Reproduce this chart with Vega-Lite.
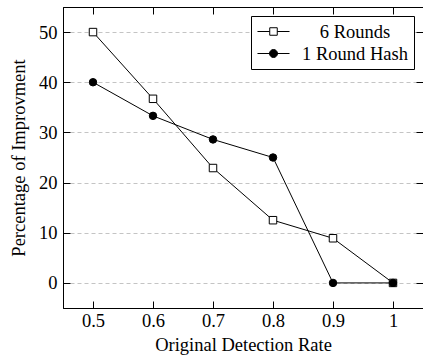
{
  "$schema": "https://vega.github.io/schema/vega-lite/v6.json",
  "width": 360,
  "height": 301,
  "autosize": {"type": "none"},
  "padding": {"left": 63, "top": 7, "right": 0, "bottom": 50},
  "background": "white",
  "config": {
    "font": "Liberation Serif",
    "view": {"stroke": "black", "strokeWidth": 1},
    "axis": {
      "domainColor": "black",
      "domainWidth": 1,
      "tickColor": "black",
      "tickWidth": 1,
      "tickSize": -7,
      "labelFont": "Liberation Serif",
      "labelFontSize": 18.5,
      "labelColor": "black",
      "titleFont": "Liberation Serif",
      "titleFontSize": 18.5,
      "titleFontWeight": "normal",
      "titleColor": "black",
      "gridColor": "#c4c4c4",
      "gridDash": [4, 3],
      "gridWidth": 1
    },
    "legend": {
      "labelFont": "Liberation Serif",
      "labelFontSize": 18.5,
      "labelColor": "black",
      "title": null,
      "orient": "top-right",
      "offset": 9,
      "padding": 6,
      "strokeColor": "black",
      "fillColor": "white",
      "labelAlign": "center",
      "labelOffset": 72,
      "rowPadding": 3,
      "symbolSize": 324,
      "symbolOffset": 7,
      "symbolStrokeColor": "black",
      "symbolStrokeWidth": 1
    }
  },
  "data": {
    "values": [
      {"rate": 0.5, "value": 50, "series": "6 Rounds"},
      {"rate": 0.6, "value": 36.7, "series": "6 Rounds"},
      {"rate": 0.7, "value": 22.9, "series": "6 Rounds"},
      {"rate": 0.8, "value": 12.5, "series": "6 Rounds"},
      {"rate": 0.9, "value": 8.9, "series": "6 Rounds"},
      {"rate": 1.0, "value": 0, "series": "6 Rounds"},
      {"rate": 0.5, "value": 40, "series": "1 Round Hash"},
      {"rate": 0.6, "value": 33.3, "series": "1 Round Hash"},
      {"rate": 0.7, "value": 28.6, "series": "1 Round Hash"},
      {"rate": 0.8, "value": 25, "series": "1 Round Hash"},
      {"rate": 0.9, "value": 0, "series": "1 Round Hash"},
      {"rate": 1.0, "value": 0, "series": "1 Round Hash"}
    ]
  },
  "layer": [
    {
      "mark": {"type": "line", "color": "black", "strokeWidth": 1},
      "encoding": {
        "x": {
          "field": "rate", "type": "quantitative",
          "scale": {"domain": [0.45, 1.05], "nice": false, "zero": false},
          "axis": {
            "orient": "bottom",
            "values": [0.5, 0.6, 0.7, 0.8, 0.9, 1],
            "format": "~g",
            "grid": false,
            "labelPadding": 10,
            "title": "Original Detection Rate",
            "titlePadding": 6
          }
        },
        "y": {
          "field": "value", "type": "quantitative",
          "scale": {"domain": [-5, 55], "nice": false, "zero": false},
          "axis": {
            "orient": "left",
            "values": [0, 10, 20, 30, 40, 50],
            "grid": true,
            "labelPadding": 13,
            "title": "Percentage of Improvment",
            "titlePadding": 10
          }
        },
        "detail": {"field": "series"}
      }
    },
    {
      "mark": {"type": "point", "stroke": "black", "strokeWidth": 1, "opacity": 1, "size": 56},
      "encoding": {
        "x": {
          "field": "rate", "type": "quantitative",
          "axis": {"orient": "top", "labels": false, "title": null, "grid": false, "values": [0.5, 0.6, 0.7, 0.8, 0.9, 1]}
        },
        "y": {
          "field": "value", "type": "quantitative",
          "axis": {"orient": "right", "labels": false, "title": null, "grid": false, "values": [0, 10, 20, 30, 40, 50]}
        },
        "shape": {
          "field": "series", "type": "nominal",
          "scale": {"domain": ["6 Rounds", "1 Round Hash"], "range": ["square", "circle"]},
          "legend": null
        },
        "fill": {
          "field": "series", "type": "nominal",
          "scale": {"domain": ["6 Rounds", "1 Round Hash"], "range": ["white", "black"]},
          "legend": null
        }
      }
    },
    {
      "transform": [{"filter": "false"}],
      "mark": {"type": "point", "strokeWidth": 1, "opacity": 1, "size": 324},
      "encoding": {
        "x": {"field": "rate", "type": "quantitative", "axis": null},
        "y": {"field": "value", "type": "quantitative", "axis": null},
        "shape": {
          "field": "series", "type": "nominal",
          "scale": {
            "domain": ["6 Rounds", "1 Round Hash"],
            "range": [
              "M-1.78,0H-0.417M0.417,0H1.78M-0.417,-0.417H0.417V0.417H-0.417Z",
              "M-1.78,0H1.78M-0.444,0A0.444,0.444 0 1,0 0.444,0A0.444,0.444 0 1,0 -0.444,0Z"
            ]
          },
          "legend": {}
        },
        "fill": {
          "field": "series", "type": "nominal",
          "scale": {"domain": ["6 Rounds", "1 Round Hash"], "range": ["white", "black"]},
          "legend": {}
        },
        "stroke": {
          "field": "series", "type": "nominal",
          "scale": {"domain": ["6 Rounds", "1 Round Hash"], "range": ["black", "black"]},
          "legend": {}
        }
      }
    }
  ],
  "resolve": {
    "axis": {"x": "independent", "y": "independent"},
    "scale": {"shape": "independent", "fill": "independent", "stroke": "independent"}
  }
}
